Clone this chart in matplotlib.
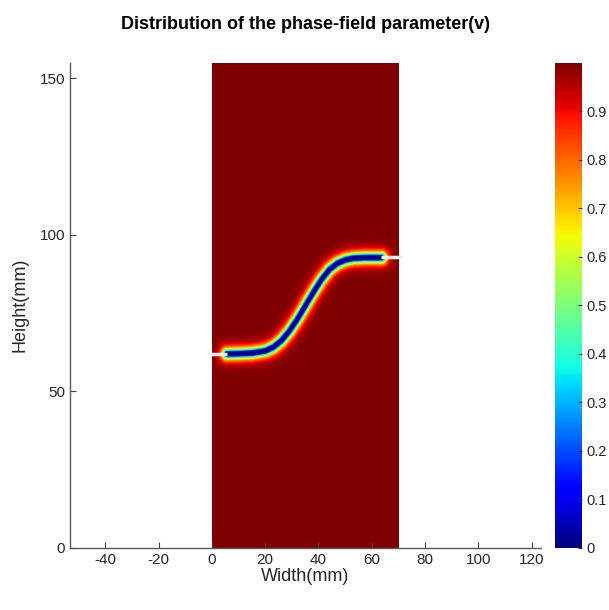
import numpy as np
import matplotlib.pyplot as plt

plt.rcParams['font.family'] = ['Liberation Sans', 'DejaVu Sans']
plt.rcParams['axes.unicode_minus'] = False

# plate size (mm)
plate_width = 70
plate_height = 155

# crack path through the plate (mm)
crack_x = [5.5, 10, 15, 20, 23, 26, 29, 32, 35, 38, 41, 44, 47, 50, 53, 57, 63.6]
crack_y = [62, 62.1, 62.3, 63, 64.2, 66.3, 69.4, 73.2, 77.5, 81.8, 85.8,
           89, 91, 92.1, 92.6, 92.8, 92.8]

# initial notches on both edges
notch_left_x = [-0.5, 5.5]
notch_left_y = [62, 62]
notch_right_x = [63.6, 71.5]
notch_right_y = [92.8, 92.8]

# crack half-width and phase-field length scale (mm)
w0 = 0.6
l0 = 1.1

cbar_ticks = [0, 0.1, 0.2, 0.3, 0.4, 0.5, 0.6, 0.7, 0.8, 0.9]


def dist_to_path(X, Y, px, py):
    d = np.full(X.shape, np.inf)
    for i in range(len(px) - 1):
        ax_, ay_ = px[i], py[i]
        bx_, by_ = px[i + 1], py[i + 1]
        dx, dy = bx_ - ax_, by_ - ay_
        t = ((X - ax_) * dx + (Y - ay_) * dy) / (dx * dx + dy * dy)
        t = np.clip(t, 0, 1)
        cx = ax_ + t * dx
        cy = ay_ + t * dy
        d = np.minimum(d, np.hypot(X - cx, Y - cy))
    return d


xs = np.linspace(0, plate_width, 561)
ys = np.linspace(0, plate_height, 1241)
X, Y = np.meshgrid(xs, ys)
d = dist_to_path(X, Y, crack_x, crack_y)
v = 1 - np.exp(-np.maximum(d - w0, 0) / l0)

fig = plt.figure(figsize=(6.09, 6.10), dpi=100)
ax = fig.add_axes([0.115, 0.102, 0.773, 0.795])
cax = fig.add_axes([0.911, 0.102, 0.044, 0.795])

im = ax.imshow(v, origin='lower', extent=[0, plate_width, 0, plate_height],
               cmap='jet', vmin=0, vmax=1, aspect='auto',
               interpolation='bilinear')
ax.plot(notch_left_x, notch_left_y, color='#f4eeee', lw=2.5,
        solid_capstyle='butt', zorder=3)
ax.plot(notch_right_x, notch_right_y, color='#f4eeee', lw=2.5,
        solid_capstyle='butt', zorder=3)

ax.set_xlim(-53.2, 123.4)
ax.set_ylim(0, 155)
ax.set_xticks([-40, -20, 0, 20, 40, 60, 80, 100, 120])
ax.set_yticks([0, 50, 100, 150])
for s in ['top', 'right']:
    ax.spines[s].set_visible(False)
for s in ['left', 'bottom']:
    ax.spines[s].set_color('#5a5a5a')
    ax.spines[s].set_linewidth(1.0)
ax.tick_params(direction='in', length=4, color='#404040',
               labelsize=11, labelcolor='#262626')
ax.set_xlabel('Width(mm)', fontsize=13, color='#262626', labelpad=1)
ax.set_ylabel('Height(mm)', fontsize=13, color='#262626', labelpad=8)
ax.set_title('Distribution of the phase-field parameter(v)',
             fontsize=13, fontweight='bold', pad=24)

cb = fig.colorbar(im, cax=cax, ticks=cbar_ticks)
cb.outline.set_visible(False)
cb.ax.tick_params(direction='in', length=3, color='#303030',
                  labelsize=10.5, labelcolor='#262626')
cb.ax.set_yticklabels([str(t) for t in cbar_ticks])

fig.savefig('out.png', dpi=100)
